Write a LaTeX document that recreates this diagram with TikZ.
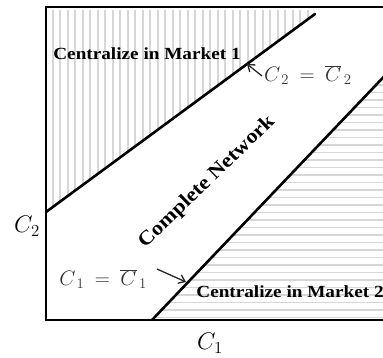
\documentclass[tikz,border=0pt]{standalone}
\usepackage{fix-cm}
\usepackage{fontspec}
\setmainfont{Liberation Serif}
\usetikzlibrary{arrows.meta}
\begin{document}
\begin{tikzpicture}[x=1pt,y=-1pt,
  hatch/.style={draw=black!16,line width=1.7pt},
  bound/.style={line width=2.6pt,line cap=round},
  region/.style={font=\bfseries\fontsize{17}{19}\selectfont,inner sep=0pt},
  mlabel/.style={text=black!80,font=\fontsize{21}{23}\selectfont,inner sep=0pt},
  axlabel/.style={font=\fontsize{24}{26}\selectfont,inner sep=0pt},
  pointer/.style={-{Straight Barb[length=6pt,width=9pt]},line width=1.3pt,black!85}]
\useasboundingbox (0,0) rectangle (383,357);
\clip (0,0) rectangle (383,357);
% corners
\coordinate (bl) at (46,320);
\coordinate (tl) at (46,7);
\coordinate (tr) at (392,7);
\coordinate (br) at (392,320);
\coordinate (u1) at (46,212);
\coordinate (u2) at (315,14);
\coordinate (l1) at (152,320);
\coordinate (l3) at (395,65);
% vertical hatching
\begin{scope}
\clip (46,10) -- (312,10) -- (315,14) -- (u1) -- cycle;
\foreach \x in {52.7,60.2,...,312} \draw[hatch] (\x,9) -- (\x,215);
\end{scope}
% horizontal hatching
\begin{scope}
\clip (l1) -- (l3) -- (395,320) -- cycle;
\foreach \y in {77.5,85,...,320} \draw[hatch] (150,\y) -- (395,\y);
\end{scope}
% box
\draw[line width=2.4pt] (tr) -- (tl) -- (bl) -- (br);
% boundary lines
\draw[bound] (u1) -- (u2);
\draw[bound] (l1) -- (l3);
% region labels
\node[region] (m1) at (147,54) {\scalebox{1.13}[1]{Centralize in Market 1}};
\node[region] (m2) at (290,292) {\scalebox{1.13}[1]{Centralize in Market 2}};
\node[region,font=\bfseries\fontsize{20}{22}\selectfont,rotate=44] (cn) at (207,182) {\scalebox{1.12}[1]{Complete Network}};
% equation labels
\node[mlabel,anchor=west] (e2) at (264,75) {$C_{\,2}\:=\:\overline{C}_{\,2}$};
\node[mlabel,anchor=east] (e1) at (147,279) {$C_{\,1}\:=\:\overline{C}_{\,1}$};
\coordinate (p2) at (247,64);
\coordinate (p1) at (186,282);
\draw[pointer] (262,76) -- (p2);
\draw[pointer] (157,269) -- (p1);
% axis labels
\node[axlabel] (a2) at (27,226) {$C_2$};
\node[axlabel] (a1) at (210,343) {$C_1$};
\end{tikzpicture}
\end{document}
